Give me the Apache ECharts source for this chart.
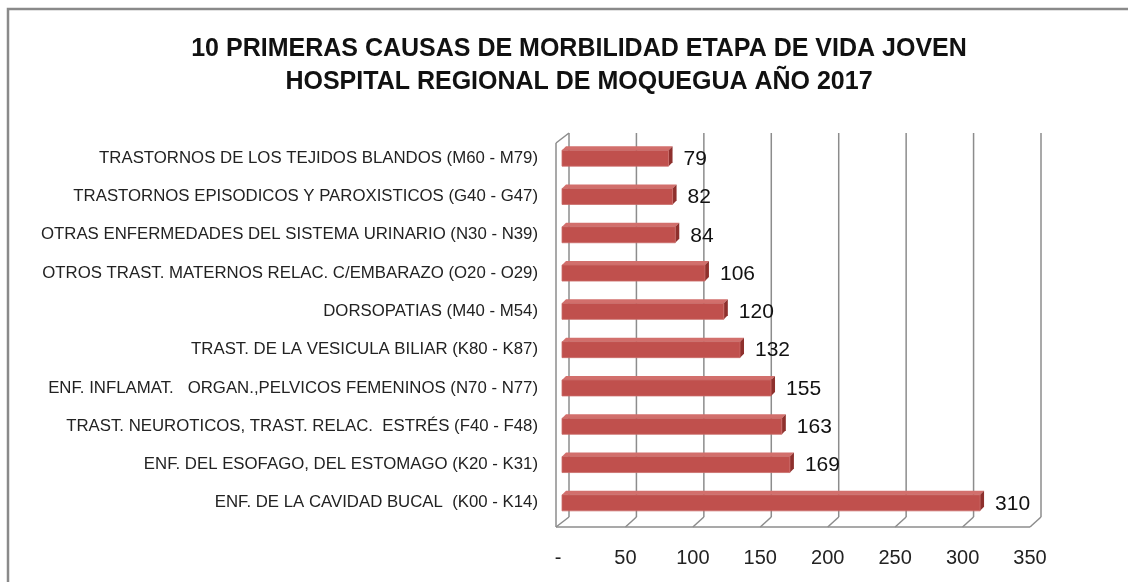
<!DOCTYPE html>
<html>
<head>
<meta charset="utf-8">
<script src="https://cdn.jsdelivr.net/npm/echarts@6/dist/echarts.min.js"></script>
<style>
html,body{margin:0;padding:0;background:#fff;}
#c{width:1128px;height:582px;}
</style>
</head>
<body>
<div id="c"></div>
<script>
// ---- data ----
const titleLines = [
  '10 PRIMERAS CAUSAS DE MORBILIDAD ETAPA DE VIDA JOVEN',
  'HOSPITAL REGIONAL DE MOQUEGUA AÑO 2017'
];
// bottom to top
const categories = [
  'ENF. DE LA CAVIDAD BUCAL  (K00 - K14)',
  'ENF. DEL ESOFAGO, DEL ESTOMAGO (K20 - K31)',
  'TRAST. NEUROTICOS, TRAST. RELAC.  ESTRÉS (F40 - F48)',
  'ENF. INFLAMAT.   ORGAN.,PELVICOS FEMENINOS (N70 - N77)',
  'TRAST. DE LA VESICULA BILIAR (K80 - K87)',
  'DORSOPATIAS (M40 - M54)',
  'OTROS TRAST. MATERNOS RELAC. C/EMBARAZO (O20 - O29)',
  'OTRAS ENFERMEDADES DEL SISTEMA URINARIO (N30 - N39)',
  'TRASTORNOS EPISODICOS Y PAROXISTICOS (G40 - G47)',
  'TRASTORNOS DE LOS TEJIDOS BLANDOS (M60 - M79)'
];
const values = [310, 169, 163, 155, 132, 120, 106, 84, 82, 79];
const tickValues = [0, 50, 100, 150, 200, 250, 300, 350];

// ---- styling ----
const DX = 11, DY = 10;      // 3D depth of the wall/floor
const BDX = 4;               // bars sit slightly back from front plane
const BAR_H = 16, BAR_D = 4; // bar thickness and depth
const gridColor = '#8c8c8c';

const chart = echarts.init(document.getElementById('c'), null, {renderer: 'canvas'});

function wallItem(params, api) {
  const cs = params.coordSys;
  const v = api.value(0);
  const x = api.coord([v, 0])[0];
  const yFront = cs.y + cs.height + 5;
  const yTopBack = cs.y - 6;
  const children = [
    { type: 'line', shape: {x1: x + DX, y1: yTopBack, x2: x + DX, y2: yFront - DY},
      style: {stroke: gridColor, lineWidth: 1.5} },
    { type: 'line', shape: {x1: x - (v === 0 ? 2 : 0), y1: yFront, x2: x + DX, y2: yFront - DY},
      style: {stroke: gridColor, lineWidth: 1.5} }
  ];
  if (params.dataIndex === 0) {
    const xl = x - 2;
    children.push(
      { type: 'line', shape: {x1: xl, y1: yFront, x2: xl, y2: yTopBack + DY},
        style: {stroke: gridColor, lineWidth: 1.5} },
      { type: 'line', shape: {x1: xl, y1: yTopBack + DY, x2: x + DX, y2: yTopBack},
        style: {stroke: gridColor, lineWidth: 1.5} }
    );
  }
  if (params.dataIndex === params.dataInsideLength - 1) {
    const x0 = api.coord([tickValues[0], 0])[0] - 2;
    children.push(
      { type: 'line', shape: {x1: x0, y1: yFront, x2: x, y2: yFront},
        style: {stroke: gridColor, lineWidth: 1.5} }
    );
  }
  return {type: 'group', children: children, silent: true};
}

function barItem(params, api) {
  const v = api.value(0);
  const ci = api.value(1);
  const p0 = api.coord([0, ci]);
  const p1 = api.coord([v, ci]);
  const x0 = p0[0] + BDX, x1 = p1[0] + BDX;
  const yc = p0[1];
  const yt = yc - BAR_H / 2, yb = yc + BAR_H / 2;
  return {
    type: 'group',
    children: [
      { type: 'polygon', shape: {points: [[x0, yt], [x1, yt], [x1 + BAR_D, yt - BAR_D], [x0 + BAR_D, yt - BAR_D]]},
        style: {fill: '#d26f6c'} },
      { type: 'polygon', shape: {points: [[x1, yt], [x1 + BAR_D, yt - BAR_D], [x1 + BAR_D, yb - BAR_D], [x1, yb]]},
        style: {fill: '#8e302d'} },
      { type: 'rect', shape: {x: x0, y: yt, width: x1 - x0, height: BAR_H},
        style: {fill: '#c0504d', stroke: '#c96b68', lineWidth: 0.8} },
      { type: 'text', x: x1 + 15, y: yc + 1,
        style: {text: String(v), fill: '#111', font: '21px "Liberation Sans", Arial, sans-serif',
                textAlign: 'left', textVerticalAlign: 'middle'} }
    ]
  };
}

chart.setOption({
  animation: false,
  backgroundColor: '#fff',
  title: {
    text: titleLines.join('\n'),
    left: 574, top: 28, textAlign: 'center',
    textStyle: {fontFamily: '"Liberation Sans Narrow", "Liberation Sans", Arial, sans-serif',
      fontWeight: 'bold', fontSize: 25, lineHeight: 33, color: '#111'}
  },
  graphic: [{
    type: 'rect', shape: {x: 8, y: 9, width: 1300, height: 800},
    style: {fill: 'none', stroke: '#8a8a8a', lineWidth: 2.5}, silent: true, z: 100
  }],
  grid: {left: 558, right: 98, top: 139, bottom: 60},
  xAxis: {
    type: 'value', min: 0, max: 350, interval: 50,
    axisLine: {show: false}, axisTick: {show: false}, splitLine: {show: false},
    axisLabel: {
      margin: 26, color: '#222', fontSize: 20, fontFamily: '"Liberation Sans", Arial, sans-serif',
      formatter: v => v === 0 ? '-' : String(v)
    }
  },
  yAxis: {
    type: 'category', data: categories,
    axisLine: {show: false}, axisTick: {show: false}, splitLine: {show: false},
    axisLabel: {margin: 20, color: '#222', fontSize: 16.8, fontFamily: '"Liberation Sans", Arial, sans-serif'}
  },
  series: [
    { type: 'custom', renderItem: wallItem, data: tickValues.map(v => [v]), z: 1, silent: true },
    { type: 'custom', renderItem: barItem, data: values.map((v, i) => [v, i]), z: 2, silent: true }
  ]
});
</script>
</body>
</html>
